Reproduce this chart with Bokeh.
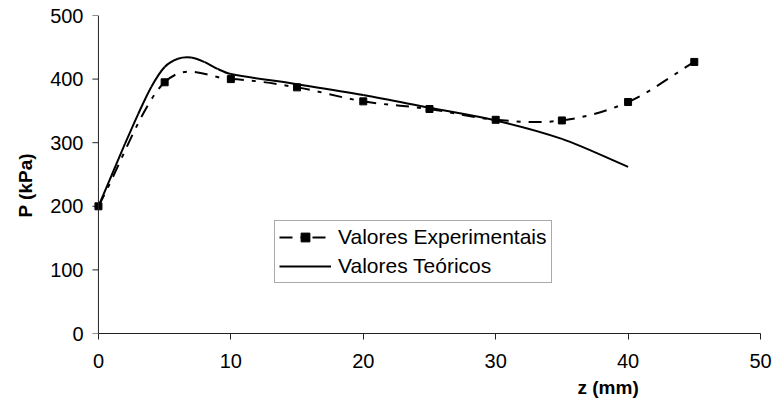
import numpy as np
from bokeh.plotting import figure
from bokeh.models import Range1d, Legend, LegendItem, FixedTicker, Title, Span
from bokeh.embed import file_html
from bokeh.resources import INLINE

# ---- data ----
z_exp = [0, 5, 10, 15, 20, 25, 30, 35, 40, 45]
p_exp = [200, 395, 400, 387, 365, 353, 336, 335, 364, 427]

z_teo = [0, 1, 2, 3, 4, 5, 6, 7, 8, 9, 10, 15, 20, 25, 30, 35, 40]
p_teo = [200, 249, 298, 345, 388, 419, 432, 434, 427, 416, 408, 392, 375, 355, 335, 306, 262]

x_ticks = [0, 10, 20, 30, 40, 50]
y_ticks = [0, 100, 200, 300, 400, 500]
x_title = "z (mm)"
y_title = "P (kPa)"
series_labels = ["Valores Experimentais", "Valores Teóricos"]


def smooth_segments(x, y):
    """Cubic Bezier control points (smoothed line, as in the spreadsheet)."""
    x = np.asarray(x, float)
    y = np.asarray(y, float)
    n = len(x)
    m = np.empty(n)
    m[0] = (y[1] - y[0]) / (x[1] - x[0])
    m[-1] = (y[-1] - y[-2]) / (x[-1] - x[-2])
    m[1:-1] = (y[2:] - y[:-2]) / (x[2:] - x[:-2])
    h = np.diff(x)
    return dict(x0=x[:-1], y0=y[:-1], x1=x[1:], y1=y[1:],
                cx0=x[:-1] + h / 3, cy0=y[:-1] + m[:-1] * h / 3,
                cx1=x[1:] - h / 3, cy1=y[1:] - m[1:] * h / 3)


FONT = "Liberation Sans"
DASH = "13 8 4 8"
AXC = "#222222"
X_LEFT_PAD = 0.6          # small room left of z = 0 so the first marker is not clipped
TICK_LEN = 6              # px

p = figure(width=775, height=403,
           x_range=Range1d(-X_LEFT_PAD, 50), y_range=Range1d(0, 500),
           output_backend="svg", toolbar_location=None,
           min_border_left=90, min_border_right=15,
           min_border_top=15, min_border_bottom=70)
p.outline_line_color = None
p.xgrid.visible = False
p.ygrid.visible = False
p.background_fill_color = "white"
p.border_fill_color = "white"

for ax in (p.xaxis[0], p.yaxis[0]):
    ax.axis_line_color = AXC
    ax.axis_line_width = 1
    ax.major_tick_line_color = AXC
    ax.major_tick_in = 0
    ax.major_tick_out = TICK_LEN
    ax.minor_tick_in = 0
    ax.minor_tick_out = 0
    ax.major_label_text_font = FONT
    ax.major_label_text_font_size = "20px"
    ax.major_label_text_color = "black"

p.xaxis.ticker = FixedTicker(ticks=x_ticks)
p.xaxis.bounds = (0, 50)
p.xaxis.major_label_standoff = 14

# y axis: labels from the axis, line and ticks drawn at z = 0
p.yaxis.ticker = FixedTicker(ticks=y_ticks)
p.yaxis.axis_line_color = None
p.yaxis.major_tick_line_color = None
p.yaxis.major_tick_out = 0
p.yaxis.major_label_standoff = 7
p.add_layout(Span(location=0, dimension="height", line_color=AXC, line_width=1))
scale = (775 - 90 - 15) / (50 + X_LEFT_PAD)   # px per mm
p.segment(x0=[0] * len(y_ticks), y0=y_ticks,
          x1=[-TICK_LEN / scale] * len(y_ticks), y1=y_ticks,
          line_color=AXC, line_width=1)

# axis titles
p.add_layout(Title(text=x_title, align="left", offset=487,
                   text_font=FONT, text_font_size="19px", text_font_style="bold",
                   text_color="black", standoff=8), "below")
p.add_layout(Title(text=y_title, align="left", offset=116,
                   text_font=FONT, text_font_size="19px", text_font_style="bold",
                   text_color="black", standoff=23), "left")

# theoretical curve (solid)
seg_t = smooth_segments(z_teo, p_teo)
p.bezier(source=seg_t, x0="x0", y0="y0", x1="x1", y1="y1",
         cx0="cx0", cy0="cy0", cx1="cx1", cy1="cy1",
         line_color="black", line_width=2)

# experimental curve (dash-dot) with square markers
seg_e = smooth_segments(z_exp, p_exp)
p.bezier(source=seg_e, x0="x0", y0="y0", x1="x1", y1="y1",
         cx0="cx0", cy0="cy0", cx1="cx1", cy1="cy1",
         line_color="black", line_width=2, line_dash=DASH)
marks = p.scatter(z_exp, p_exp, marker="square", size=7, fill_color="black",
                  line_color="black")

# single-point line renderers: invisible in the plot, used as legend glyphs
le_line = p.line(z_exp[:1], p_exp[:1], line_color="black", line_width=2, line_dash=DASH)
lt_line = p.line(z_teo[:1], p_teo[:1], line_color="black", line_width=2)

legend = Legend(items=[LegendItem(label=series_labels[0], renderers=[le_line, marks]),
                       LegendItem(label=series_labels[1], renderers=[lt_line])],
                location=(184, 50), orientation="vertical",
                glyph_width=52, glyph_height=22, label_height=22,
                label_standoff=7, padding=4, spacing=5, margin=0,
                label_text_font=FONT, label_text_font_size="21px",
                label_text_color="black",
                border_line_color="#555555", border_line_width=1,
                background_fill_color="white", background_fill_alpha=1)
p.add_layout(legend, "center")

open("out.html", "w").write(file_html(p, INLINE))
